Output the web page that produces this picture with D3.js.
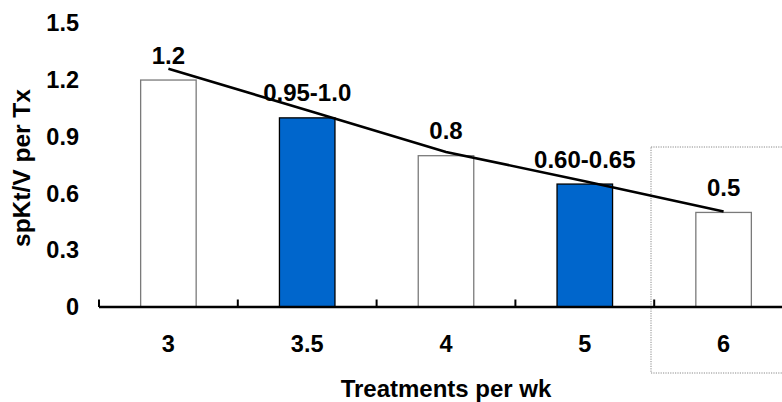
<!DOCTYPE html>
<html>
<head>
<meta charset="utf-8">
<script src="https://cdn.jsdelivr.net/npm/d3@7/dist/d3.min.js"></script>
<style>
  html, body { margin: 0; padding: 0; background: #fff; }
  svg { display: block; font-family: "Liberation Sans", Arial, sans-serif; font-weight: bold; }
</style>
</head>
<body>
<svg id="chart" width="782" height="402"></svg>
<script>
// Treatments per week and the spKt/V per treatment at each frequency
const categories = ["3", "3.5", "4", "5", "6"];
const barValues = [1.2, 1.0, 0.8, 0.65, 0.5];
const barLabels = ["1.2", "0.95-1.0", "0.8", "0.60-0.65", "0.5"];
const barKinds = ["open", "filled", "open", "filled", "open"];
// Trend line through the categories
const trendValues = [1.26, 1.04, 0.82, 0.665, 0.505];
const yTicks = [0, 0.3, 0.6, 0.9, 1.2, 1.5];
const yTickLabels = ["0", "0.3", "0.6", "0.9", "1.2", "1.5"];

const svg = d3.select("#chart");
const W = 782, H = 402;

const x = d3.scaleBand().domain(categories).range([99, 793]).paddingInner(0).paddingOuter(0);
const y = d3.scaleLinear().domain([0, 1.5]).range([307, 23.3]);
const barW = x.bandwidth() * 0.4;

// highlight box around the last category
svg.append("rect")
  .attr("x", 651).attr("y", 147)
  .attr("width", 160).attr("height", 226)
  .attr("fill", "none")
  .attr("stroke", "#8a8a8a")
  .attr("stroke-width", 1)
  .attr("stroke-dasharray", "1.2,1.2");

// bars
svg.append("g").selectAll("rect")
  .data(categories)
  .join("rect")
  .attr("x", (d) => x(d) + (x.bandwidth() - barW) / 2)
  .attr("y", (d, i) => y(barValues[i]))
  .attr("width", barW)
  .attr("height", (d, i) => y(0) - y(barValues[i]))
  .attr("fill", (d, i) => barKinds[i] === "filled" ? "#0066cc" : "#ffffff")
  .attr("stroke", (d, i) => barKinds[i] === "filled" ? "#000000" : "#7a7a7a")
  .attr("stroke-width", 1.3);

// x axis baseline and category separators
svg.append("line")
  .attr("x1", x.range()[0]).attr("x2", W)
  .attr("y1", y(0)).attr("y2", y(0))
  .attr("stroke", "#000").attr("stroke-width", 2.4);
svg.append("g").selectAll("line")
  .data(categories)
  .join("line")
  .attr("x1", (d) => x(d)).attr("x2", (d) => x(d))
  .attr("y1", y(0)).attr("y2", y(0) - 7.5)
  .attr("stroke", "#000").attr("stroke-width", 2);

// y axis: labels only
const yAxis = d3.axisLeft(y)
  .tickValues(yTicks)
  .tickSize(0)
  .tickPadding(0)
  .tickFormat((d, i) => yTickLabels[i]);
const gy = svg.append("g").attr("transform", "translate(79,0)").call(yAxis);
gy.select(".domain").remove();
gy.selectAll("text")
  .attr("font-family", "'Liberation Sans', Arial, sans-serif")
  .attr("font-weight", "bold")
  .attr("font-size", 23.5)
  .attr("fill", "#000");

// x category labels
svg.append("g").selectAll("text")
  .data(categories)
  .join("text")
  .attr("x", (d) => x(d) + x.bandwidth() / 2)
  .attr("y", 351.5)
  .attr("text-anchor", "middle")
  .attr("font-size", 23.5)
  .text((d) => d);

// trend line
const line = d3.line()
  .x((d, i) => x(categories[i]) + x.bandwidth() / 2)
  .y((d) => y(d));
svg.append("path")
  .datum(trendValues)
  .attr("d", line)
  .attr("fill", "none")
  .attr("stroke", "#000")
  .attr("stroke-width", 2.6);

// value labels
svg.append("g").selectAll("text")
  .data(categories)
  .join("text")
  .attr("x", (d) => x(d) + x.bandwidth() / 2)
  .attr("y", (d, i) => y(barValues[i]) - 16.5)
  .attr("text-anchor", "middle")
  .attr("font-size", 24)
  .text((d, i) => barLabels[i]);

// axis titles
svg.append("text")
  .attr("x", (x.range()[0] + x.range()[1]) / 2)
  .attr("y", 396.5)
  .attr("text-anchor", "middle")
  .attr("font-size", 24)
  .text("Treatments per wk");

svg.append("text")
  .attr("transform", "translate(30,168) rotate(-90)")
  .attr("text-anchor", "middle")
  .attr("font-size", 24.5)
  .text("spKt/V per Tx");
</script>
</body>
</html>
